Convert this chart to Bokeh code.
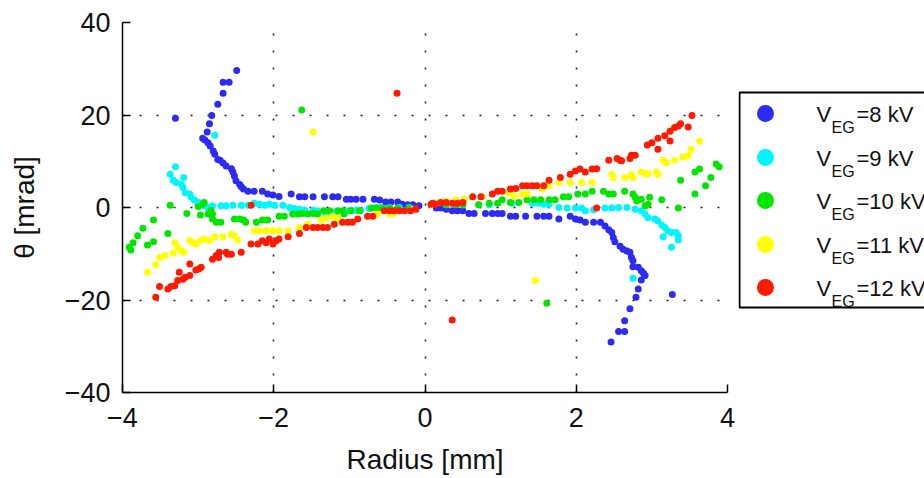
from bokeh.plotting import figure
from bokeh.layouts import row
from bokeh.models import Range1d, FixedTicker
from bokeh.embed import file_html
from bokeh.resources import INLINE
from bokeh.core.properties import value

# ---------------- data (Radius [mm], theta [mrad]) ----------------
x8 = [-2.49, -2.67, -2.59, -2.67, -2.74, -2.82, -2.85, -2.88, -2.94, -2.91, -2.87, -2.84, -2.80, -2.78,
      -2.74, -2.71, -2.67, -2.63, -2.56, -2.54, -2.52, -2.50, -2.45, -2.43, -2.40, -2.34, -2.26, -2.15,
      -2.08, -2.01, -1.93, -1.77, -1.66, -1.59, -1.48, -1.33, -1.22, -1.15, -1.04, -0.98, -0.91, -0.82,
      -0.67, -0.60, -0.52, -0.45, -0.36, -0.30, -0.23, -0.16, -0.08, -3.30,
      0.15, 0.21, 0.28, 0.36, 0.43, 0.50, 0.58, 0.65, 0.80, 0.89, 0.96, 1.02, 1.13, 1.20, 1.33, 1.48,
      1.57, 1.64, 1.77, 1.92, 1.99, 2.05, 2.12, 2.23, 2.32, 2.38, 2.43, 2.47, 2.49, 2.51, 2.58, 2.62,
      2.67, 2.71, 2.73, 2.75, 2.75, 2.82, 2.86, 2.89, 2.91, 2.86, 2.82, 2.79, 2.71, 2.64, 2.64, 2.56,
      2.46, 3.27]
y8 = [29.6, 27.1, 27.1, 24.7, 22.3, 19.9, 18.1, 16.3, 15.0, 14.6, 14.0, 13.3, 12.2, 11.5,
      10.4, 10.2, 9.6, 9.0, 8.4, 7.7, 6.8, 5.8, 5.0, 4.5, 4.0, 3.5, 3.5, 3.5,
      2.9, 2.7, 2.4, 2.9, 2.3, 2.3, 2.3, 2.3, 2.3, 2.3, 1.8, 1.8, 1.8, 1.8,
      1.8, 1.6, 1.2, 1.2, 1.2, 0.7, 0.6, 0.6, 0.4, 19.3,
      -0.1, -0.1, -0.4, -0.7, -0.7, -0.7, -1.3, -1.3, -1.3, -1.3, -1.3, -1.3, -1.9, -1.9, -1.9, -1.9,
      -1.9, -1.9, -2.5, -1.9, -2.5, -2.7, -3.2, -3.2, -3.2, -4.0, -4.8, -5.4, -6.5, -7.4, -8.4, -9.0,
      -9.4, -9.7, -10.8, -11.5, -12.8, -12.9, -13.7, -14.2, -14.7, -15.7, -17.6, -19.4, -21.9, -24.5, -26.8, -26.8,
      -29.1, -18.8]

x9 = [-2.78, -3.30, -3.37, -3.33, -3.29, -3.22, -3.19, -3.20, -3.17, -3.11, -3.09, -3.05, -3.00, -2.96,
      -2.92, -2.87, -2.81, -2.70, -2.63, -2.54, -2.43, -2.34, -2.26, -2.19, -2.12, -2.06, -1.99, -1.88,
      -1.79, -1.73, -1.66, -1.59, -1.48, -1.42, -1.31, -1.24, -1.18, -1.04, -0.98, -0.91, -0.85, -0.74,
      -0.65, -0.58, -0.47, -0.34, -0.21,
      0.28, 0.50, 0.71, 0.85, 1.15, 1.42, 1.50, 1.57, 1.64, 1.77, 1.88, 1.99, 2.07, 2.12, 2.23, 2.38,
      2.47, 2.56, 2.67, 2.78, 2.86, 2.91, 2.95, 3.04, 3.08, 3.13, 3.17, 3.21, 3.26, 3.32, 3.35, 3.35,
      3.15, 3.26, 2.75]
y9 = [15.6, 8.8, 7.2, 5.9, 5.4, 5.0, 6.5, 4.3, 3.2, 2.9, 2.2, 1.6, 1.1, 0.7,
      0.4, 0.0, 0.4, 0.4, 0.4, 0.5, 0.5, 0.5, 0.9, 0.7, 0.5, 0.7, 0.5, 0.5,
      0.0, -0.2, -0.4, -0.6, -0.6, -0.7, -1.3, -1.1, -0.9, -0.7, -0.6, -0.6, -0.7, -0.2,
      0.0, 0.0, 0.0, 0.0, 0.0,
      0.6, 0.6, 0.6, 0.6, 0.9, 0.9, 0.9, 0.7, 0.7, 0.0, -0.1, -0.1, -0.1, -0.7, -0.5, -0.1,
      -0.1, 0.0, 0.0, -0.4, -0.7, -1.4, -2.2, -2.5, -2.9, -3.8, -4.3, -5.0, -5.4, -5.4, -6.1, -7.0,
      -6.3, -8.6, -15.3]

x10 = [-1.63, -3.91, -3.89, -3.86, -3.80, -3.73, -3.67, -3.59, -3.59, -3.40, -3.37, -3.15, -3.00, -2.97,
       -2.94, -2.92, -2.87, -2.83, -2.81, -2.81, -2.76, -2.70, -2.52, -2.45, -2.40, -2.37, -2.23, -2.15,
       -2.08, -1.93, -1.86, -1.75, -1.68, -1.62, -1.55, -1.48, -1.42, -1.34, -1.26, -1.15, -1.09, -1.07,
       -0.98, -0.87, -0.71, -0.63, -0.56, -0.47, -0.36, -0.21,
       0.28, 0.41, 0.50, 0.71, 0.85, 0.96, 1.02, 1.13, 1.24, 1.35, 1.44, 1.53, 1.64, 1.72, 1.83, 1.90,
       2.02, 2.12, 2.21, 2.36, 2.43, 2.49, 2.64, 2.75, 2.78, 2.80, 2.86, 2.91, 2.95, 2.97, 3.13, 3.35,
       3.38, 3.57, 3.57, 3.63, 3.71, 3.78, 3.85, 3.89, 1.61]
y10 = [21.1, -8.6, -9.2, -7.6, -6.1, -4.5, -8.1, -7.4, -2.7, -5.6, 0.5, -1.3, 0.2, -1.6,
       0.7, 1.1, -1.4, -0.6, -1.4, -2.5, -3.2, -3.2, -2.5, -2.5, -2.7, -3.2, -3.2, -2.7,
       -2.7, -1.9, -1.9, -1.4, -1.4, -1.3, -1.4, -1.3, -1.4, -0.7, -0.7, -0.7, -0.7, -1.4,
       -0.7, -0.7, -0.1, -0.1, -0.1, -0.1, -0.1, -0.1,
       0.6, 0.6, 0.6, 0.6, 0.9, 0.9, 1.7, 1.1, 1.1, 1.7, 1.7, 1.7, 1.7, 1.7, 2.3, 2.3,
       2.9, 2.9, 3.5, 3.5, 2.9, 2.9, 3.5, 2.9, 2.2, 1.4, 1.8, 0.4, 0.7, 2.2, 1.7, -0.1,
       5.9, 2.9, 7.7, 8.3, 4.7, 6.5, 9.4, 8.8, -20.7]

x11 = [-1.48, -3.67, -3.56, -3.51, -3.44, -3.33, -3.31, -3.27, -3.22, -3.19, -3.11, -3.07, -3.03, -2.96,
       -2.92, -2.85, -2.78, -2.67, -2.56, -2.52, -2.48, -2.26, -2.19, -2.10, -2.01, -1.93, -1.81, -1.66,
       -1.55, -1.37, -1.31, -1.22, -1.15, -0.74, -0.63, -0.47, -0.41, -0.16,
       0.08, 0.19, 0.28, 0.41, 0.52, 0.63, 0.76, 1.11, 1.18, 1.29, 1.35, 1.55, 1.64, 1.77, 1.92, 2.07,
       2.21, 2.47, 2.49, 2.64, 2.73, 2.75, 2.86, 2.91, 2.95, 3.06, 3.08, 3.15, 3.19, 3.30, 3.41, 3.48,
       3.52, 3.63, 1.46]
y11 = [16.3, -14.0, -12.4, -10.8, -10.4, -9.9, -7.6, -8.6, -9.4, -9.7, -7.1, -7.6, -7.9, -7.1,
       -6.8, -7.2, -6.3, -6.3, -5.8, -6.1, -7.0, -5.0, -5.0, -5.0, -5.0, -5.0, -5.0, -4.3,
       -3.6, -2.7, -2.3, -1.9, -2.3, -1.9, -1.4, -1.4, -1.3, -0.4,
       0.7, 1.1, 1.4, 1.7, 1.8, 2.3, 2.3, 3.2, 2.5, 2.9, 2.9, 4.0, 4.7, 5.4, 5.4, 5.4,
       5.4, 7.2, 6.5, 6.5, 7.1, 6.5, 7.7, 7.3, 7.3, 7.7, 7.2, 10.2, 9.7, 10.2, 10.9, 11.2,
       12.6, 14.4, -15.8]

x12 = [-0.37, -3.56, -3.51, -3.40, -3.36, -3.31, -3.27, -3.25, -3.20, -3.17, -3.11, -3.11, -3.03, -2.99,
       -2.96, -2.81, -2.76, -2.73, -2.72, -2.63, -2.61, -2.56, -2.43, -2.30, -2.30, -2.21, -2.15, -2.10,
       -2.06, -2.01, -1.97, -1.93, -1.81, -1.66, -1.57, -1.48, -1.42, -1.35, -1.29, -1.20, -1.09, -1.02,
       -0.96, -0.89, -0.76, -0.69, -0.54, -0.47, -0.41, -0.34, -0.27, -0.19, -0.12, -0.12,
       0.08, 0.10, 0.14, 0.21, 0.28, 0.36, 0.43, 0.50, 0.63, 0.74, 0.89, 0.96, 1.02, 1.13, 1.20, 1.29,
       1.35, 1.42, 1.48, 1.57, 1.64, 1.79, 1.92, 1.99, 2.05, 2.12, 2.21, 2.27, 2.27, 2.43, 2.54, 2.58,
       2.60, 2.71, 2.73, 2.78, 2.94, 3.00, 3.08, 3.08, 3.17, 3.24, 3.24, 3.30, 3.35, 3.38, 3.48, 3.53,
       0.36]
y12 = [24.7, -19.4, -17.1, -17.6, -17.1, -16.9, -15.8, -14.0, -15.5, -15.1, -14.7, -12.2, -13.5, -13.3,
       -12.9, -11.2, -10.4, -10.8, -9.7, -9.7, -10.1, -10.1, -9.7, 0.5, -7.9, -7.9, -7.2, -7.6,
       -6.8, -7.9, -7.2, -6.8, -6.3, -5.6, -4.3, -4.3, -4.3, -4.3, -4.3, -3.6, -3.2, -3.2,
       -3.2, -2.5, -1.9, -1.9, -0.7, -0.7, -0.7, -0.7, -0.7, -0.7, -0.2, -0.4,
       0.7, 0.9, 0.7, 1.1, 1.1, 0.9, 0.9, 1.1, 2.3, 2.3, 2.9, 3.5, 3.5, 4.0, 4.1, 4.7,
       4.7, 4.7, 4.7, 4.7, 5.9, 6.5, 7.2, 7.9, 8.3, 7.7, 8.3, 8.4, -0.1, 10.2, 10.6, 10.2,
       10.1, 10.6, 11.3, 11.3, 13.5, 14.0, 12.6, 15.0, 15.5, 16.5, 14.4, 17.3, 17.6, 18.1, 17.4, 19.9,
       -24.3]

series_x = [x8, x9, x10, x11, x12]
series_y = [y8, y9, y10, y11, y12]
series_kv = ["8", "9", "10", "11", "12"]
colors = ["#2b2bf5", "#00f5ff", "#00e600", "#ffff00", "#ff1a00"]

x_ticks = [-4, -2, 0, 2, 4]
y_ticks = [-40, -20, 0, 20, 40]

FONT = "Liberation Sans"

# page-pixel geometry of the plotting frame
FR_LEFT, FR_RIGHT, FR_TOP, FR_BOTTOM = 122, 727, 22, 392
PAGE_H = 478

# ---------------- main plot ----------------
p = figure(width=738, height=PAGE_H, output_backend="svg", toolbar_location=None,
           x_range=Range1d(-4, 4), y_range=Range1d(-40, 40),
           min_border_left=FR_LEFT, min_border_right=738 - FR_RIGHT,
           min_border_top=FR_TOP, min_border_bottom=PAGE_H - FR_BOTTOM)
p.outline_line_color = None
p.background_fill_color = "white"
p.border_fill_color = "white"

for xs, ys, c in zip(series_x, series_y, colors):
    p.scatter(xs, ys, size=7, fill_color=c, line_color=c, line_width=0)

p.xaxis.ticker = FixedTicker(ticks=x_ticks)
p.yaxis.ticker = FixedTicker(ticks=y_ticks)
p.xaxis.major_label_overrides = {t: (str(t).replace("-", "\u2212")) for t in x_ticks}
p.yaxis.major_label_overrides = {t: (str(t).replace("-", "\u2212")) for t in y_ticks}

for ax in (p.xaxis, p.yaxis):
    ax.axis_line_color = "black"
    ax.axis_line_width = 1.5
    ax.major_tick_line_color = "black"
    ax.major_tick_line_width = 1.5
    ax.major_tick_in = 8
    ax.major_tick_out = 0
    ax.minor_tick_line_color = None
    ax.major_label_text_font = FONT
    ax.major_label_text_font_size = "27px"
    ax.major_label_text_color = "#111111"
    ax.axis_label_text_font = FONT
    ax.axis_label_text_font_size = "28px"
    ax.axis_label_text_font_style = "normal"
    ax.axis_label_text_color = "#111111"

p.xaxis.axis_label = "Radius [mm]"
p.yaxis.axis_label = "\u03b8 [mrad]"
p.xaxis.major_label_standoff = 15
p.yaxis.major_label_standoff = 12
p.xaxis.axis_label_standoff = 14
p.yaxis.axis_label_standoff = 22

for g in (p.xgrid, p.ygrid):
    g.grid_line_color = "#222222"
    g.grid_line_width = 1.6
    g.grid_line_dash = "2 15"

# ---------------- legend panel (frame aligned with main frame; page-pixel coords) ----------------
L_LEFT, L_W = 738, 186
lg = figure(width=L_W, height=PAGE_H, output_backend="svg", toolbar_location=None,
            x_range=Range1d(L_LEFT, L_LEFT + L_W), y_range=Range1d(FR_BOTTOM, FR_TOP),
            x_axis_location=None, y_axis_location=None,
            min_border_left=0, min_border_right=0,
            min_border_top=FR_TOP, min_border_bottom=PAGE_H - FR_BOTTOM)
lg.outline_line_color = None
lg.xgrid.visible = False
lg.ygrid.visible = False

box_top, box_bottom = 92, 307
lg.quad(left=[L_LEFT + 1], right=[L_LEFT + L_W + 20], top=[box_top], bottom=[box_bottom],
        fill_color="white", line_color="black", line_width=2)

entry_y = [113, 157, 200, 244, 287]
lg.scatter([765] * 5, entry_y, size=17, fill_color=colors, line_color=colors, line_width=0)

lg.text([816] * 5, [yy + 1 for yy in entry_y], text=["V"] * 5,
        text_font=value(FONT), text_font_size="22px", text_color="#111111",
        text_baseline="alphabetic", text_align="left")
lg.text([831] * 5, [yy + 14 for yy in entry_y], text=["EG"] * 5,
        text_font=value(FONT), text_font_size="16px", text_color="#111111",
        text_baseline="alphabetic", text_align="left")
lg.text([856] * 5, [yy + 1 for yy in entry_y], text=["=" + k + " kV" for k in series_kv],
        text_font=value(FONT), text_font_size="22px", text_color="#111111",
        text_baseline="alphabetic", text_align="left")

layout = row(p, lg, spacing=0)
open("out.html", "w").write(file_html(layout, INLINE))
